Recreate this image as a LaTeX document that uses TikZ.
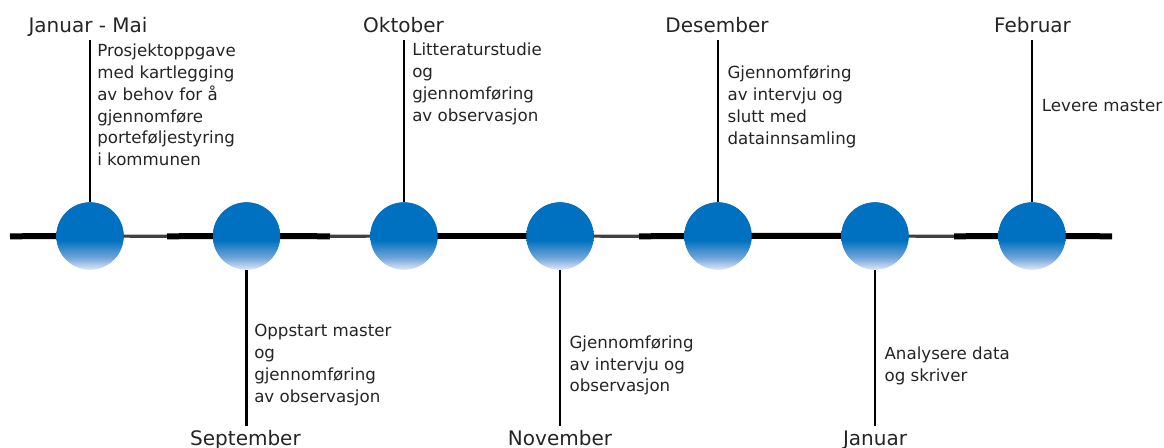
\documentclass[tikz,border=0pt]{standalone}
\usepackage{fontspec}
\setmainfont{DejaVu Sans}
\usetikzlibrary{calc}
\begin{document}
\definecolor{dotblue}{RGB}{0,112,192}
\definecolor{dotmid}{RGB}{112,164,217}
\definecolor{dotlow}{RGB}{224,230,246}
\definecolor{inkgray}{RGB}{36,36,36}
% vertical fill of the milestone discs: solid blue on top, fading out below
\pgfdeclareverticalshading{dotshade}{100bp}{color(0bp)=(dotlow); color(25bp)=(dotlow); color(34bp)=(dotmid); color(47bp)=(dotblue); color(100bp)=(dotblue)}
\begin{tikzpicture}[x=0.75pt,y=-0.75pt,
  disc/.style={circle,minimum size=50.5pt,inner sep=0pt,shade,shading=dotshade},
  axisline/.style={line width=4.5pt,black},
  thinaxis/.style={line width=2.4pt,black!75},
  stem/.style={line width=1.7pt,black},
  month/.style={font=\fontsize{15}{18}\selectfont,text=inkgray,anchor=base,inner sep=0pt},
  note/.style={font=\fontsize{12.5}{16.35}\selectfont,text=inkgray,align=left,anchor=base west,inner sep=0pt}]
\useasboundingbox (0,0) rectangle (1164,448);

% time axis end points and the places where its stroke changes
\coordinate (L) at (10,236.3);
\coordinate (R) at (1112,236.3);
\coordinate (a1) at (167,236.3);
\coordinate (a2) at (330,236.3);
\coordinate (a3) at (639,236.3);
\coordinate (a4) at (954,236.3);

% milestone discs (placed first as nodes, drawn on top further below)
\path (90,236) node[disc] (c1) {}
      (246.5,236) node[disc] (c2) {}
      (404,236) node[disc] (c3) {}
      (560,236) node[disc] (c4) {}
      (718,236) node[disc] (c5) {}
      (875,236) node[disc] (c6) {}
      (1032,236) node[disc] (c7) {};

% axis
\draw[axisline] (L) -- (c1.center);
\draw[thinaxis] (c1.center) -- (a1);
\draw[axisline] (a1) -- (c2.center) -- (a2);
\draw[thinaxis] (a2) -- (c3.center);
\draw[axisline] (c3.center) -- (c4.center);
\draw[thinaxis] (c4.center) -- (a3);
\draw[axisline] (a3) -- (c5.center) -- (c6.center);
\draw[thinaxis] (c6.center) -- (a4);
\draw[axisline] (a4) -- (c7.center) -- (R);

% redraw the discs above the axis
\foreach \c in {c1,c2,c3,c4,c5,c6,c7}
  \path[shade,shading=dotshade] (\c) circle[radius=33.6];

% stems up and down
\foreach \c in {c1,c3,c5,c7} {
  \coordinate (\c top) at ($(\c.center)+(0,-196)$);
  \draw[stem] (\c.north) -- (\c top);
}
\foreach \c in {c2,c4,c6} {
  \coordinate (\c bot) at ($(\c.center)+(0,190)$);
  \draw[stem] (\c.south) -- (\c bot);
}

% month labels
\node[month] (m1) at (88,33) {Januar - Mai};
\node[month] (m2) at (245.5,445.5) {September};
\node[month] (m3) at (403.5,33) {Oktober};
\node[month] (m4) at (560,445.5) {November};
\node[month] (m5) at (717,33) {Desember};
\node[month] (m6) at (875,445.5) {Januar};
\node[month] (m7) at (1032.5,33) {Februar};

% activity texts (anchored at the baseline of their last line)
\node[note] (n1) at (97,165.7) {Prosjektoppgave\\med kartlegging\\av behov for å\\gjennomføre\\porteføljestyring\\i kommunen};
\node[note] (n2) at (254,402.1) {Oppstart master\\og\\gjennomføring\\av observasjon};
\node[note] (n3) at (412,121.4) {Litteraturstudie\\og\\gjennomføring\\av observasjon};
\node[note] (n4) at (569.3,391.9) {Gjennomføring\\av intervju og\\observasjon};
\node[note] (n5) at (727.3,144.1) {Gjennomføring\\av intervju og\\slutt med\\datainnsamling};
\node[note] (n6) at (884.3,381.1) {Analysere data\\og skriver};
\node[note] (n7) at (1041.7,112) {Levere master};
\end{tikzpicture}
\end{document}
